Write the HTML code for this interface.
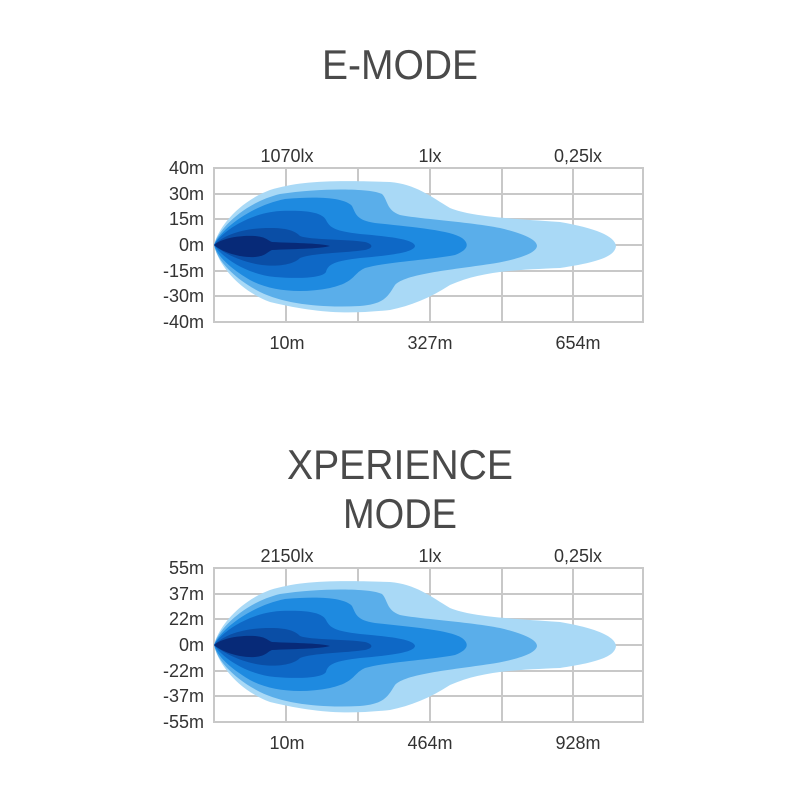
<!DOCTYPE html>
<html><head><meta charset="utf-8"><style>
html,body{margin:0;padding:0;background:#fff}
svg{display:block}
text{font-family:"Liberation Sans",sans-serif}
</style></head><body>
<svg width="800" height="800" viewBox="0 0 800 800" xmlns="http://www.w3.org/2000/svg">
<defs>
<g id="beam">
<path fill="#a9d9f6" d="M214,245 C218,228 238,202 270,190 C300,181 330,180 390,182 C415,184 430,196 450,208 C470,216 500,218 560,222 C595,228 615,236 616,246 C615,256 600,262 560,268 C510,270 480,272 450,285 C430,298 410,306 390,310 C350,314 320,314 270,302 C238,290 218,264 214,245 Z"/>
<path fill="#5aaeea" d="M214,245 C218,230 243,203 280,194 C320,188 370,188 382,194 C388,200 386,210 400,215 C420,219 470,222 500,228 C525,234 537,240 537,246 C536,254 515,260 490,264 C450,270 405,274 395,285 C388,296 385,304 360,306 C320,308 285,304 260,292 C233,278 217,260 214,245 Z"/>
<path fill="#1e8ae0" d="M214,245 C220,230 250,206 285,199 C320,196 345,198 352,206 C356,214 356,220 375,223 C410,227 450,230 462,238 C470,244 468,250 455,255 C430,260 385,262 365,268 C352,274 356,282 330,288 C300,294 270,291 250,280 C228,267 217,255 214,245 Z"/>
<path fill="#0e68c6" d="M214,245 C222,231 250,213 280,211 C305,210 322,212 326,220 C330,228 335,231 360,234 C395,237 414,240 415,246 C414,252 395,255 360,258 C335,261 328,264 326,272 C322,278 300,279 275,277 C245,274 222,257 214,245 Z"/>
<path fill="#0a4ea6" d="M214,245 C225,234 245,228 270,228 C290,228 296,232 300,236 C310,240 345,239 365,242 C373,244 374,248 365,250 C345,253 312,253 300,258 C294,264 280,267 262,265 C240,262 222,252 214,245 Z"/>
<path fill="#072a78" d="M214,245 C222,238 240,235 255,236 C266,237 267,240 272,242 C290,243 320,243 330,246 C320,249 290,249 272,250 C267,252 266,256 255,257 C240,258 222,252 214,245 Z"/>
</g>
<g id="grid" fill="none" stroke="#c8c8c8" stroke-width="2">
<rect x="214" y="168" width="429" height="154"/>
<path d="M286,168V322M358,168V322M430,168V322M502,168V322M573,168V322M214,194H643M214,219H643M214,245H643M214,271H643M214,296H643"/>
</g>
</defs>

<text x="400" y="79" font-size="42" fill="#4a4a4a" text-anchor="middle" textLength="156" lengthAdjust="spacingAndGlyphs">E-MODE</text>

<use href="#grid"/>
<use href="#beam"/>
<g font-size="18" fill="#333" text-anchor="end">
<text x="204" y="174">40m</text><text x="204" y="200">30m</text><text x="204" y="225">15m</text><text x="204" y="251">0m</text><text x="204" y="277">-15m</text><text x="204" y="302">-30m</text><text x="204" y="328">-40m</text>
</g>
<g font-size="18" fill="#333" text-anchor="middle">
<text x="287" y="162">1070lx</text><text x="430" y="162">1lx</text><text x="578" y="162">0,25lx</text>
<text x="287" y="349">10m</text><text x="430" y="349">327m</text><text x="578" y="349">654m</text>
</g>

<text x="400" y="479" font-size="42" fill="#4a4a4a" text-anchor="middle" textLength="226" lengthAdjust="spacingAndGlyphs">XPERIENCE</text>
<text x="400" y="528" font-size="42" fill="#4a4a4a" text-anchor="middle" textLength="114" lengthAdjust="spacingAndGlyphs">MODE</text>

<g transform="translate(0,400)">
<use href="#grid"/>
<use href="#beam"/>
</g>
<g font-size="18" fill="#333" text-anchor="end">
<text x="204" y="574">55m</text><text x="204" y="600">37m</text><text x="204" y="625">22m</text><text x="204" y="651">0m</text><text x="204" y="677">-22m</text><text x="204" y="702">-37m</text><text x="204" y="728">-55m</text>
</g>
<g font-size="18" fill="#333" text-anchor="middle">
<text x="287" y="562">2150lx</text><text x="430" y="562">1lx</text><text x="578" y="562">0,25lx</text>
<text x="287" y="749">10m</text><text x="430" y="749">464m</text><text x="578" y="749">928m</text>
</g>
</svg>
</body></html>
